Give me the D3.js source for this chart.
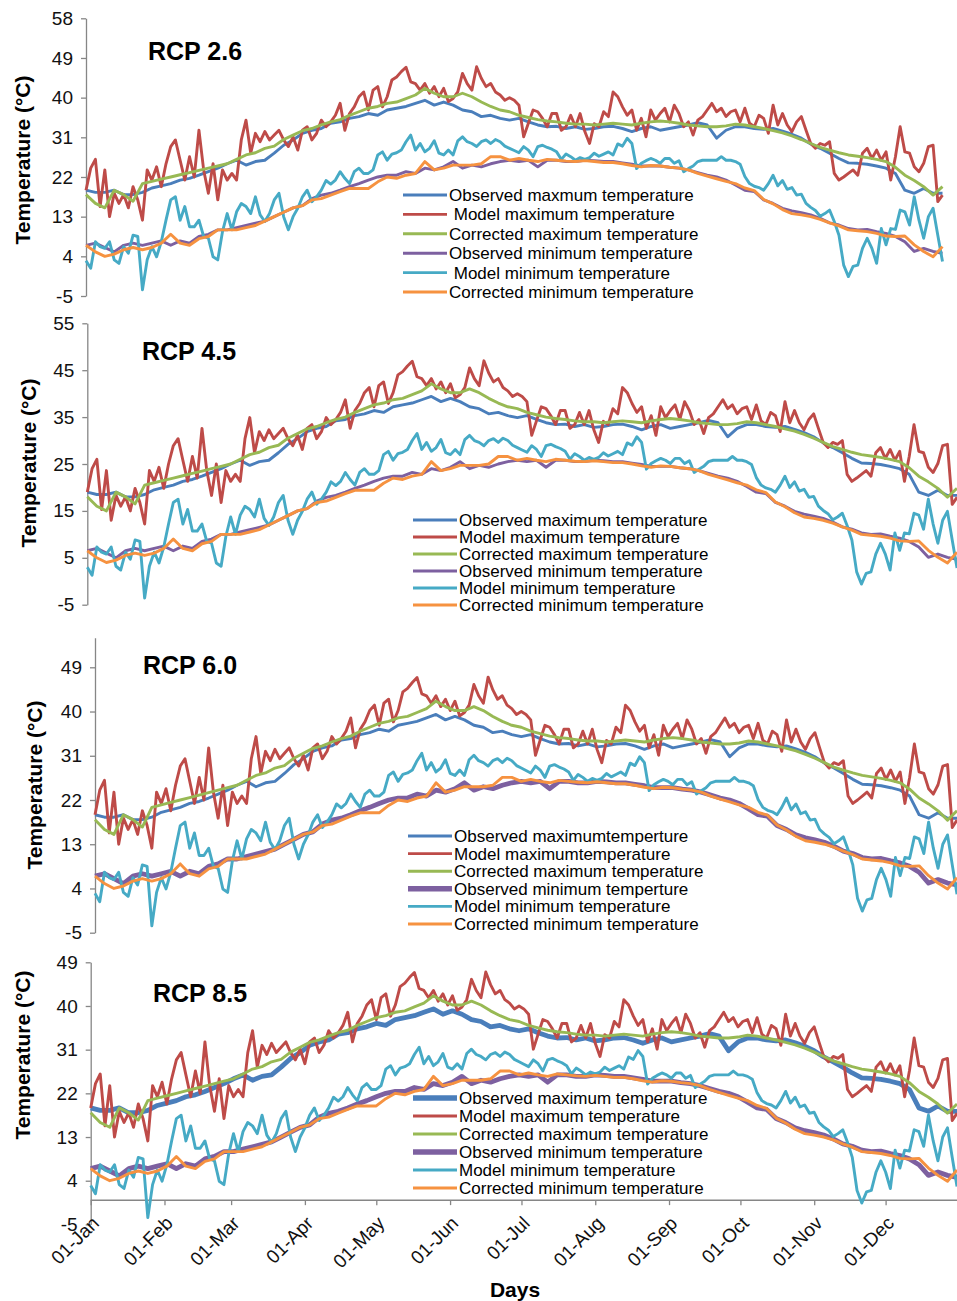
<!DOCTYPE html>
<html>
<head>
<meta charset="utf-8">
<script src="https://d3js.org/d3.v7.min.js"></script>
<style>
  body { margin: 0; background: #fff; }
  svg { display: block; font-family: "Liberation Sans", Arial, sans-serif; }
</style>
</head>
<body>
<svg id="chart"></svg>
<script>
// observed / corrected temperatures read every 4th day, 01-Jan ... 31-Dec (92 values)
const obsMax = [19, 18.5, 18.5, 19, 18, 18, 18.5, 19.5, 20, 20.5, 21.3, 21.7, 22.4, 23.2, 24, 25, 25.8, 24.7, 25.5, 25.8, 27.4, 29.2, 30.4, 31.9,
  32.6, 33, 34.2, 34.5, 35.3, 35.7, 36.4, 36, 37.2, 37.6, 38, 38.7, 39.4, 38.3, 39, 38.3, 37.2, 36.8, 35.7, 36, 35.3, 34.9, 35.3, 34.5,
  33.8, 33.4, 33.5, 33, 33.4, 32.8, 33, 33.4, 33.5, 33, 32.3, 33, 33.4, 32.6, 33, 33.4, 33.8, 34.3, 33.8, 30.8, 32.6, 33.4, 33.4,
  33, 32.8, 33, 32.4, 31.7, 30.8, 29.5, 28.5, 27.4, 26.2, 25.2, 25.1, 24.9, 24.5, 24, 22.8, 19, 18.3, 19.4, 18.3, 18.3];
const corMax = [18, 16, 15, 19, 18, 16.5, 20.5, 21, 21.5, 22, 22.5, 23, 23.5, 24, 24.5, 25, 26, 27, 27.5, 28.5, 29, 30.5, 31.5, 32.5,
  33, 33.8, 34.5, 35, 36, 36.8, 37.6, 38, 38.7, 39, 39.8, 40.6, 42.1, 41, 40.2, 40.2, 41, 40.2, 39, 38, 37.2, 36.8, 36, 35.5,
  35, 34.7, 34.5, 34.2, 34, 34, 33.8, 34, 34.2, 34, 33.8, 34.2, 34.5, 34.7, 34.5, 34.2, 33.8, 33.6, 33.4, 33.4, 33.6, 34, 33.8,
  33.4, 33, 32.5, 32, 31.3, 30.5, 29.6, 28.7, 28.1, 27.5, 27, 26.7, 26.4, 26, 25.5, 24.2, 22.4, 21.2, 19.8, 17.9, 19.8];
const obsMin = [6.5, 7, 6, 5, 6.5, 7, 6.5, 7, 7.5, 6.5, 7.5, 7, 8.5, 9, 10, 10, 10.5, 11, 11.5, 12, 13, 14, 15, 15.5,
  17.1, 17.9, 18.3, 19, 19.8, 20.5, 21.3, 22, 22.4, 22.4, 23.2, 22.8, 24, 23.6, 24.3, 25.5, 24, 24.7, 24.3, 25, 25.5, 25.8, 25.5, 25.8,
  24.3, 25.8, 25.8, 25.5, 25.5, 25.8, 25.7, 25.5, 25.5, 25.2, 24.9, 24.5, 24.5, 24.5, 24.2, 24, 23.6, 23, 22.4, 22, 21.3, 20.2, 19,
  18.7, 16.8, 16, 14.9, 14.3, 13.9, 13.4, 12.6, 11.6, 11.1, 10.3, 10, 10.1, 9.6, 9.2, 8.5, 7.3, 5.1, 5.8, 5.1, 4.7];
const corMin = [6.5, 5, 4, 4.5, 5.5, 6, 5.5, 6, 7, 9, 7, 6.5, 8, 8.5, 10, 10, 10, 10.5, 11, 12, 13, 14, 15, 15.5,
  16.8, 17.1, 17.9, 18.7, 19.4, 19.4, 19.4, 20.9, 22, 21.7, 22.4, 22.8, 25.5, 23.6, 24, 24.7, 24.7, 24.7, 25, 26.6, 26.6, 25.8, 26.2, 25.8,
  25.5, 26, 25.8, 25.6, 25.5, 25.7, 25.5, 25.3, 25.3, 25, 24.6, 24.3, 24.6, 24.5, 24.2, 24, 23.6, 22.8, 22.2, 21.6, 21, 20.5, 19.5,
  18.9, 16.9, 15.9, 14.6, 13.7, 13.4, 13, 12.4, 11.6, 10.9, 10, 9.8, 9.6, 9.2, 8.6, 8.5, 8.6, 6.6, 5.1, 3.9, 6.2];

// model temperatures read every 2nd day, 01-Jan ... 31-Dec (183 values)
const modMax = [19, 24, 26, 15.3, 23.6, 13, 18.3, 16, 18, 15, 19.8, 16.8, 12.2, 23.6, 21.3, 24.3, 19.8, 25, 28.9, 30.4, 25.8, 21.3, 26.6, 22,
  32.6, 23.6, 18.3, 25, 16.8, 23.6, 21.3, 22.8, 21.3, 30.4, 34.9, 27.4, 31.9, 30, 32.3, 30.4, 31.5, 32.6, 30.4, 28.9, 31.1, 28.1, 32.6,
  33.4, 30.4, 31.9, 34.9, 33.4, 34.5, 36, 38.7, 32.6, 36.4, 37.9, 40.2, 41.3, 37.2, 41.7, 42.5, 37.9, 40.2, 44, 44.7, 45.9, 46.9, 43.6, 43.2,
  41.7, 43.2, 41, 42.5, 40.2, 42.1, 39.1, 39.8, 41.3, 45.5, 43.2, 41.7, 47, 44.4, 42.5, 43.2, 41.3, 40.6, 39.4, 40, 39.4, 38.3, 31.1, 34.2,
  37.2, 36.8, 35.3, 33.4, 36.4, 36.4, 32.6, 33.4, 36, 33.4, 36.4, 32.3, 29.6, 34.1, 33.4, 36.8, 35.7, 41.3, 40.2, 37.9, 36, 37.2, 32.6,
  35.3, 31.1, 37.2, 34.9, 36.4, 37.6, 34.5, 38.3, 36.4, 33.4, 34.5, 31.5, 34.9, 35.7, 37.2, 38.7, 36.8, 37.6, 35.7, 36.8, 37.2, 34.5, 37.6,
  34.2, 33.4, 36, 35.3, 31.9, 38.3, 33.8, 36.4, 33.8, 32.3, 34.5, 35.7, 32.6, 29.6, 28.5, 29.6, 29.2, 30, 22.8, 21.3, 22, 22.8, 23.6,
  22.4, 27.4, 28.5, 26.2, 28.1, 25.8, 27.7, 21.3, 26.6, 33.4, 27.7, 27.4, 24.3, 23.2, 25.1, 28.9, 29.2, 16.4, 17.9];
const modMin = [3, 1.3, 7.3, 6.2, 5.8, 7.3, 3.2, 2.4, 6.2, 4.7, 8.8, 8.5, -3.6, 3.2, 6.2, 3.9, 7.3, 12.2, 16.8, 17.5, 12.2, 15.3, 10.7, 10.7,
  12.2, 8.5, 8.1, 3.9, 3.2, 9.6, 13.7, 10, 14.1, 16, 15.3, 13.7, 17.5, 13.4, 11.9, 13.7, 16.8, 18.3, 13, 10, 13, 14.9, 17.5,
  19, 16.4, 17.5, 19, 21.2, 20.4, 21.3, 23.2, 21.7, 20.5, 23.2, 24, 22.8, 22.8, 23.6, 27, 27.7, 25.8, 27.2, 27.5, 28.1, 30, 31.5, 28.1,
  29.6, 27.7, 28.5, 30.2, 27.4, 27, 28.1, 27, 30.2, 31.1, 30, 29.6, 28.9, 30, 30.4, 29.6, 30.5, 30, 29, 28.5, 28, 27.5, 28.9, 28.1,
  26.6, 28.9, 29.2, 28.7, 28.3, 27.7, 26, 27.2, 26.6, 25.8, 26.4, 26, 26.4, 27.4, 26.7, 27.2, 27.7, 27, 29.5, 29, 30.8, 29.6, 23.9,
  25.1, 25.7, 26.2, 25.8, 25.1, 26.2, 26.2, 25.1, 25.7, 23.2, 23.9, 24.5, 25.5, 25.8, 25.8, 25.8, 25.8, 26.6, 25.8, 25.8, 25.5, 24.9, 22.1,
  20.5, 19.9, 19.6, 19, 20.5, 22.4, 20, 21.2, 19.2, 19.6, 17.9, 18.1, 16, 15.1, 14.4, 13.1, 13.7, 14.5, 11.9, 8.8, 2, -0.6, 1.7,
  2, 5.8, 8.1, 5.8, 2.4, 10.3, 6.6, 10.3, 10.1, 14.5, 14.1, 11.1, 17.5, 12.2, 8.1, 13, 14.9, 8.8, 2.8];

const seriesColors = ["#4a7ebb", "#be4b48", "#98b954", "#7d60a0", "#46aac5", "#f69240"];
const legend26 = ["Observed maxmum temperature", " Model maximum temperature", "Corrected maximum temperature",
  "Observed minimum temperature", " Model minimum temperature", "Corrected minimum temperature"];
const legend45 = ["Observed maximum temperature", "Model maximum temperature", "Corrected maximum temperature",
  "Observed minimum temperature", "Model minimum temperature", "Corrected minimum temperature"];
const legend60 = ["Observed maximumtemperture", "Model maximumtemperature", "Corrected maximum temperature",
  "Observed minimum temperture", "Model minimum temperature", "Corrected minimum temperature"];
const legend85 = legend45;

const start = new Date(2013, 0, 1);
// every series with the day spacing it was read at
const allSeries = [
  {values: obsMax, step: 4}, {values: modMax, step: 2}, {values: corMax, step: 4},
  {values: obsMin, step: 4}, {values: modMin, step: 2}, {values: corMin, step: 4}
];

const W = 957, H = 1301;
const svg = d3.select("#chart").attr("width", W).attr("height", H);

const panels = [
  {title: "RCP 2.6", tx: 148, ty: 60, left: 86, right: 942.5, top: 18.3, bottom: 296, yMax: 58,
   ticks: d3.range(-5, 59, 9), titleX: 23, titleY: 160, lx: 403, ly: 195, step: 19.4, names: legend26, thick: []},
  {title: "RCP 4.5", tx: 142, ty: 360, left: 87.3, right: 957, top: 323.3, bottom: 604.7, yMax: 55,
   ticks: d3.range(-5, 56, 10), titleX: 29, titleY: 463, lx: 413, ly: 520, step: 17, names: legend45, thick: []},
  {title: "RCP 6.0", tx: 143, ty: 674, left: 95, right: 957, top: 637.8, bottom: 932.7, yMax: 55,
   ticks: d3.range(-5, 50, 9), titleX: 35, titleY: 785, lx: 408, ly: 836, step: 17.6, names: legend60, thick: [3]},
  {title: "RCP 8.5", tx: 153, ty: 1002, left: 90.7, right: 957, top: 962.3, bottom: 1224.4, yMax: 49,
   ticks: d3.range(-5, 50, 9), titleX: 23, titleY: 1055, lx: 413, ly: 1098, step: 18, names: legend85, thick: [0, 3], xAxis: true}
];

panels.forEach(p => {
  const g = svg.append("g");
  const x = d3.scaleTime().domain([start, new Date(2013, 11, 31)]).range([p.left, p.right]);
  const y = d3.scaleLinear().domain([-5, p.yMax]).range([p.bottom, p.top]);

  // y axis
  const ya = g.append("g")
    .attr("transform", "translate(" + p.left + ",0)")
    .call(d3.axisLeft(y).tickValues(p.ticks).tickFormat(d => String(d))
      .tickSize(5).tickSizeOuter(0).tickPadding(8));
  ya.select(".domain").attr("stroke", "#868686").attr("stroke-width", 1.3);
  ya.selectAll(".tick line").attr("stroke", "#868686").attr("stroke-width", 1.3);
  ya.selectAll(".tick text").attr("fill", "#111").style("font-size", "19px");

  // x axis only on the last panel
  if (p.xAxis) {
    const xa = g.append("g")
      .attr("transform", "translate(0," + y(0) + ")")
      .call(d3.axisBottom(x).tickValues(d3.timeMonths(start, new Date(2014, 0, 1)))
        .tickFormat(d3.timeFormat("%d-%b")).tickSize(5).tickSizeOuter(0));
    xa.select(".domain").attr("stroke", "#868686").attr("stroke-width", 1.5)
      .attr("d", "M" + p.left + ",0H" + W);
    xa.selectAll(".tick line").attr("stroke", "#868686").attr("stroke-width", 1.3);
    xa.selectAll(".tick text")
      .attr("x", 0).attr("y", 0).attr("dy", 0)
      .attr("text-anchor", "end")
      .attr("fill", "#111")
      .style("font-size", "19px")
      .attr("transform", "translate(9," + (y(-5) - y(0)) + ") rotate(-45)");
  }

  // lines
  allSeries.forEach((s, k) => {
    const line = d3.line()
      .x((d, i) => x(d3.timeDay.offset(start, i * s.step)))
      .y(d => y(d));
    g.append("path")
      .datum(s.values)
      .attr("fill", "none")
      .attr("stroke", seriesColors[k])
      .attr("stroke-width", p.thick.includes(k) ? 4.8 : 2.9)
      .attr("stroke-linejoin", "round")
      .attr("d", line);
  });

  // panel title
  g.append("text")
    .attr("x", p.tx).attr("y", p.ty)
    .style("font-size", "25px").style("font-weight", "bold")
    .text(p.title);

  // axis title
  g.append("text")
    .attr("transform", "translate(" + (p.titleX + 7) + "," + p.titleY + ") rotate(-90)")
    .attr("text-anchor", "middle")
    .style("font-size", "21px").style("font-weight", "bold")
    .text("Temperature (°C)");

  // legend
  const lg = g.append("g").attr("transform", "translate(" + p.lx + "," + p.ly + ")");
  p.names.forEach((n, k) => {
    lg.append("line")
      .attr("x1", 0).attr("x2", 44)
      .attr("y1", k * p.step).attr("y2", k * p.step)
      .attr("stroke", seriesColors[k])
      .attr("stroke-width", p.thick.includes(k) ? 5.5 : 2.9);
    lg.append("text")
      .attr("x", 46).attr("y", k * p.step)
      .attr("dy", "0.35em")
      .style("font-size", "17px")
      .style("white-space", "pre")
      .text(n);
  });
});

// x axis title
svg.append("text")
  .attr("x", 515).attr("y", 1297)
  .attr("text-anchor", "middle")
  .style("font-size", "21px").style("font-weight", "bold")
  .text("Days");
</script>
</body>
</html>
